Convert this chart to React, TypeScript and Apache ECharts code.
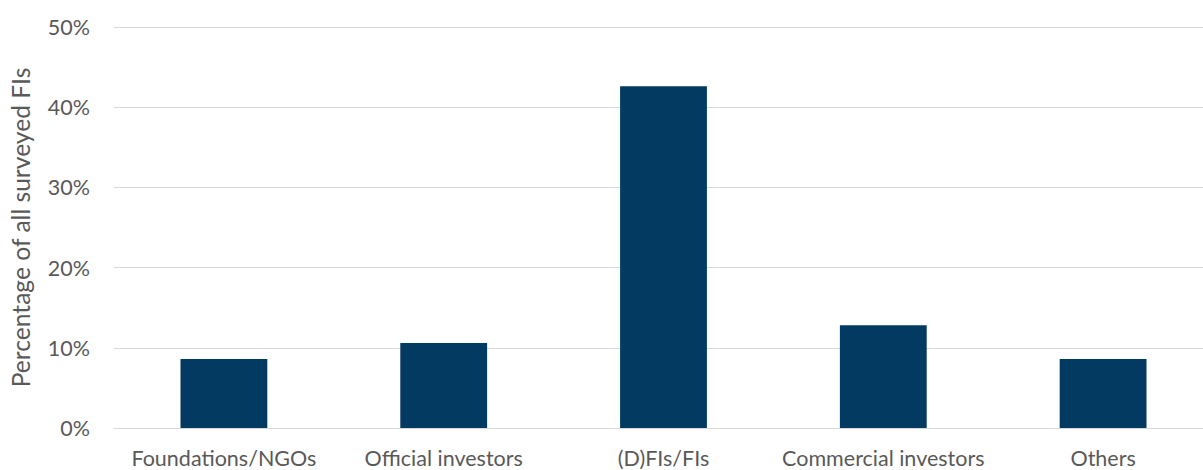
import React, { useEffect, useRef } from "react";
import * as echarts from "echarts";

const categories = ["Foundations/NGOs", "Official investors", "(D)FIs/FIs", "Commercial investors", "Others"];
const shares = [0.086, 0.106, 0.426, 0.128, 0.086];
const yTicks = { min: 0, max: 0.5, interval: 0.1 };
const yTitle = "Percentage of all surveyed FIs";

const TEXT = "#595959";
const FONT = "Lato";

export default function App() {
  const ref = useRef<HTMLDivElement>(null);
  useEffect(() => {
    if (!ref.current) return;
    const chart = echarts.init(ref.current, null, { renderer: "svg" });
    chart.setOption({
      animation: false,
      backgroundColor: "#ffffff",
      grid: { left: 112, top: 27, width: 1101, height: 401, containLabel: false },
      xAxis: {
        type: "category",
        data: categories,
        axisLine: { show: true, lineStyle: { color: "#D9D9D9", width: 1 } },
        axisTick: { show: false },
        axisLabel: { color: TEXT, fontFamily: FONT, fontSize: 21.5, margin: 19, interval: 0 },
      },
      yAxis: {
        type: "value",
        min: yTicks.min,
        max: yTicks.max,
        interval: yTicks.interval,
        name: yTitle,
        nameLocation: "middle",
        nameGap: 81,
        nameTextStyle: { color: TEXT, fontFamily: FONT, fontSize: 24.6 },
        axisLine: { show: false },
        axisTick: { show: false },
        splitLine: { lineStyle: { color: "#D9D9D9", width: 1 } },
        axisLabel: {
          color: TEXT,
          fontFamily: FONT,
          fontSize: 21.5,
          margin: 24,
          formatter: (v: number) => `${Math.round(v * 100)}%`,
        },
      },
      series: [
        {
          type: "bar",
          data: shares,
          barWidth: "39.5%",
          itemStyle: { color: "#023A62" },
        },
      ],
    });
    return () => chart.dispose();
  }, []);
  return (
    <div style={{ position: "fixed", left: 0, top: 0, width: 1203, height: 470, overflow: "hidden", background: "#fff" }}>
      <div ref={ref} style={{ width: 1225, height: 470 }} />
    </div>
  );
}
